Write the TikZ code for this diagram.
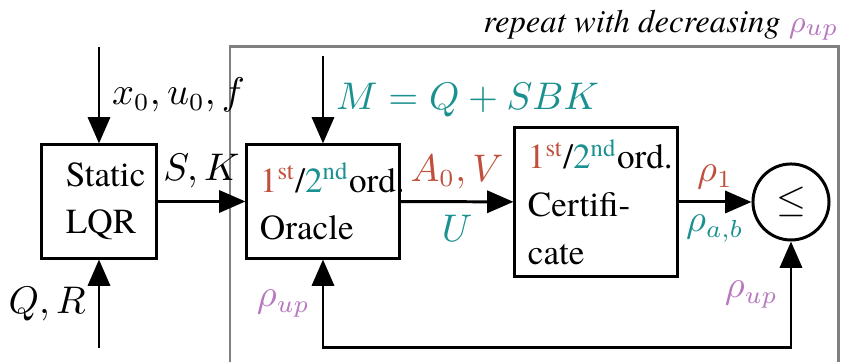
\documentclass[tikz,border=0pt]{standalone}
\usepackage{amsmath,amssymb}
\usepackage{fontspec}
\setmainfont{TeX Gyre Termes}
\usepackage{xcolor}
\usetikzlibrary{arrows.meta}

\definecolor{ordred}{RGB}{192,80,60}
\definecolor{ordteal}{RGB}{26,144,144}
\definecolor{uppurple}{RGB}{184,120,192}

\newcommand{\ordtxt}{{\color{ordred}1\textsuperscript{st}}/{\color{ordteal}2\textsuperscript{nd}}ord.}

\begin{document}
\begin{tikzpicture}[x=0.01cm,y=-0.01cm,
    blockbox/.style={draw,line width=0.85pt,align=left,inner ysep=0pt,minimum height=1.13cm},
    flow/.style={line width=0.85pt,-{Triangle[length=7.5pt,width=6.3pt]}},
    backflow/.style={line width=0.85pt,{Triangle[length=7.5pt,width=6.3pt]}-{Triangle[length=7.5pt,width=6.3pt]}},
    loopframe/.style={draw=gray,line width=0.85pt},
    sig/.style={font=\fontsize{10.6pt}{12pt}\selectfont}]
    \useasboundingbox (0,0) rectangle (853,362);

    % Draw repeat frame
    \draw[loopframe] (230,47) rectangle (839,380);
    \node[anchor=east,font=\fontsize{9.3pt}{11pt}\selectfont] (looplbl) at (851,25) {\textit{repeat with decreasing} ${\color{uppurple}\rho_{up}}$};

    % Draw blocks
    \node[blockbox,inner xsep=0.24cm,text width=0.66cm] (lqr) at (99,201.5) {Static\\[1.3pt]LQR};
    \node[blockbox,inner xsep=0.13cm,text width=1.26cm] (oracle) at (323,201.5) {\ordtxt\\[1.3pt]Oracle};
    \node[blockbox,inner xsep=0.13cm,text width=1.36cm,minimum height=1.48cm] (cert) at (596,202) {\ordtxt\\[1.6pt]Certifi-\\[1.6pt]cate};
    \node[draw,circle,line width=0.85pt,inner sep=0pt,minimum size=0.76cm,sig] (cmp) at (791,202) {$\leq$};

    % Draw inputs
    \coordinate (lqrtop) at (99,47);
    \coordinate (lqrbot) at (99,348);
    \coordinate (oracletop) at (323,56);
    \draw[flow] (lqrtop) -- node[right,sig] {$x_0,u_0,f$} (lqr.north);
    \draw[flow] (lqrbot) -- node[left,sig] {$Q,R$} (lqr.south);
    \draw[flow] (oracletop) -- node[right,sig] {${\color{ordteal}M=Q+SBK}$} (oracle.north);

    % Draw signal flow
    \draw[flow] (lqr) -- node[above,sig] {$S,K$} (oracle);
    \draw[flow] (oracle) -- node[above,sig] {${\color{ordred}A_0,V}$} node[below,sig] {${\color{ordteal}U}$} (cert);
    \draw[flow] (cert) -- node[above,sig] {${\color{ordred}\rho_1}$} node[below,sig] {${\color{ordteal}\rho_{a,b}}$} (cmp);

    % Draw feedback
    \coordinate (fbleft) at (323,348);
    \coordinate (fbright) at (791,348);
    \draw[backflow] (oracle.south) -- node[left,sig] {${\color{uppurple}\rho_{up}}$} (fbleft) -- (fbright) -- node[left,sig] {${\color{uppurple}\rho_{up}}$} (cmp.south);
\end{tikzpicture}
\end{document}
